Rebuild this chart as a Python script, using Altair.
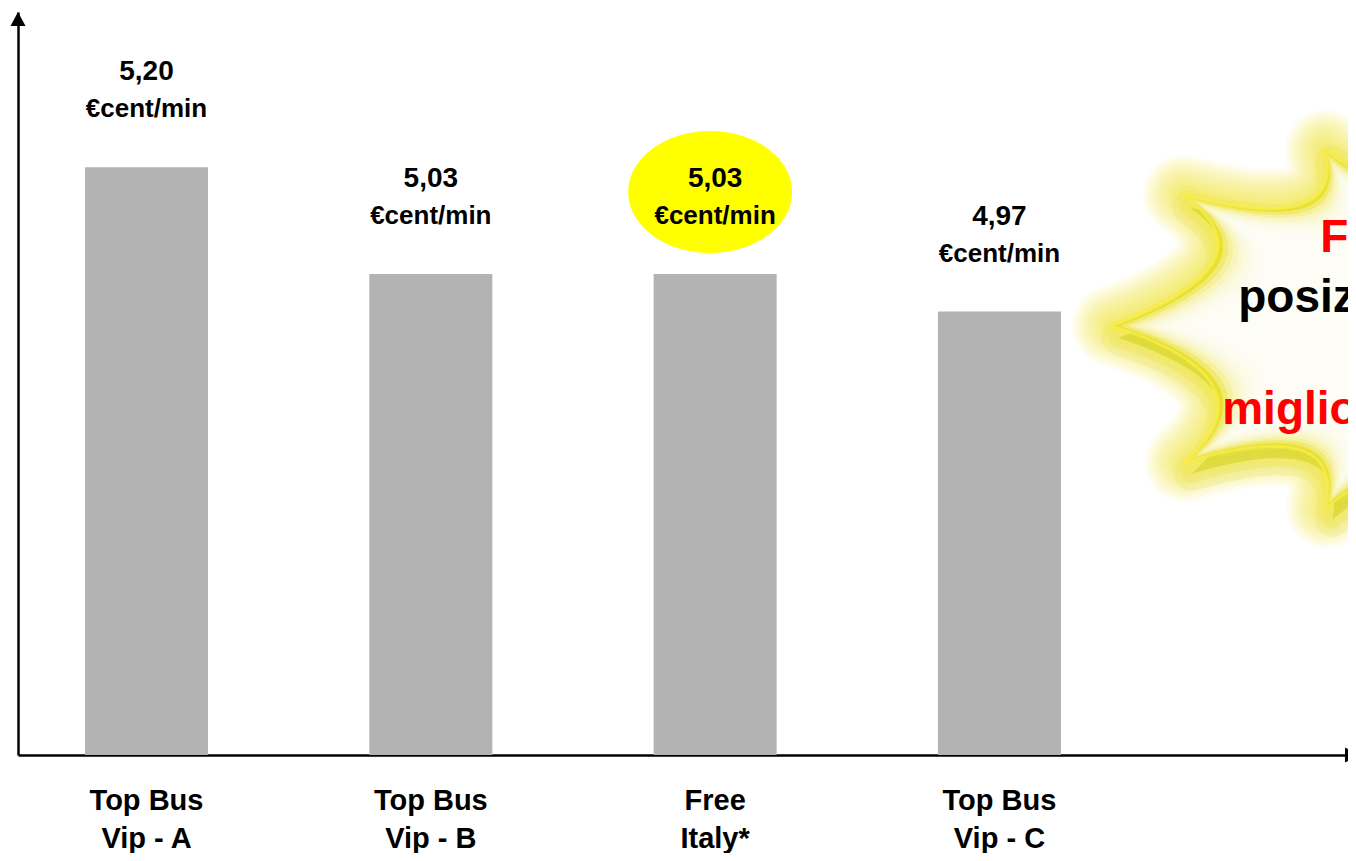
import altair as alt
import pandas as pd

# ---------------- data ----------------
categories = ["Top Bus\nVip - A", "Top Bus\nVip - B", "Free\nItaly*", "Top Bus\nVip - C"]
positions = [0, 1, 2, 3]
values = [5.20, 5.03, 5.03, 4.97]
value_labels = ["5,20", "5,03", "5,03", "4,97"]
unit_label = "€cent/min"
highlight = [False, False, True, False]

star_lines = ["Free Italy", "posizionamento", "migliore"]
star_colors = ["#ff0000", "#000000", "#ff0000"]

# scale domains (value axis does not start at zero in the original)
X_DOMAIN = [-0.452, 4.226]
Y_DOMAIN = [4.264, 5.447]
STAR_X = 4.48
STAR_Y = 4.944

FONT = "Liberation Sans"

df = pd.DataFrame({
    "pos": positions,
    "value": values,
    "label": value_labels,
    "cat": categories,
    "unit": [unit_label] * len(values),
    "hl": highlight,
})
star_df = pd.DataFrame({"x": [STAR_X], "y": [STAR_Y]})
yarrow_df = pd.DataFrame({"x": [X_DOMAIN[0]], "y": [Y_DOMAIN[1]]})
xarrow_df = pd.DataFrame({"x": [X_DOMAIN[1]], "y": [Y_DOMAIN[0]]})

# ---------------- shapes ----------------
def star_path():
    S = 320.0
    tips = [(-308, -2), (-237, -133), (-95, -178), (95, -178), (237, -133),
            (308, 0), (237, 134), (95, 180), (-94, 180), (-235, 134)]
    valleys = [(-207, -66), (-120, -123), (0, -140), (120, -123), (207, -64),
               (207, 62), (120, 122), (0, 140), (-120, 122), (-207, 59)]
    n = len(tips)
    p = "M%.4f,%.4f" % (tips[0][0] / S, tips[0][1] / S)
    for i in range(n):
        a = tips[i]
        b = tips[(i + 1) % n]
        v = valleys[i]
        cx = 2 * v[0] - (a[0] + b[0]) / 2
        cy = 2 * v[1] - (a[1] + b[1]) / 2
        p += "Q%.4f,%.4f,%.4f,%.4f" % (cx / S, cy / S, b[0] / S, b[1] / S)
    return p + "Z", (2 * S) ** 2


def ellipse_path(ry):
    k = 0.5523
    return ("M-1,0C-1,%.4f,%.4f,%.4f,0,%.4f" % (-k * ry, -k, -ry, -ry)
            + "C%.4f,%.4f,1,%.4f,1,0" % (k, -ry, -k * ry)
            + "C1,%.4f,%.4f,%.4f,0,%.4f" % (k * ry, k, ry, ry)
            + "C%.4f,%.4f,-1,%.4f,-1,0Z" % (-k, ry, k * ry))


STAR_PATH, STAR_SIZE = star_path()
ELLIPSE_PATH = ellipse_path(0.744)
ARROW_UP = "M0,-1L1.07,1L-1.07,1Z"
ARROW_RIGHT = "M1,0L-1,-1.07L-1,1.07Z"

# ---------------- encodings ----------------
xs = alt.Scale(domain=X_DOMAIN, nice=False, zero=False, padding=0)
ys = alt.Scale(domain=Y_DOMAIN, nice=False, zero=False, padding=0)
ax_x = alt.Axis(domain=True, domainColor="#000000", domainWidth=2.5, ticks=False,
                labels=False, grid=False, title=None)
ax_y = alt.Axis(domain=True, domainColor="#000000", domainWidth=2.5, ticks=False,
                labels=False, grid=False, title=None)


def X(f):
    return alt.X(f, scale=xs, axis=ax_x)


def Y(f):
    return alt.Y(f, scale=ys, axis=ax_y)


bars_base = alt.Chart(df).encode(x=X("pos:Q"), y=Y("value:Q"))

bars = bars_base.mark_bar(size=123, color="#b3b3b3", clip=True)

ellipse = bars_base.transform_filter("datum.hl").mark_point(
    shape=ELLIPSE_PATH, size=164 * 164, filled=True, color="#ffff00",
    opacity=1, xOffset=-5, yOffset=-82)

val_text = bars_base.mark_text(
    font=FONT, fontWeight="bold", fontSize=28, color="#000000",
    baseline="middle", align="center", dy=-95).encode(text="label:N")

unit_text = bars_base.mark_text(
    font=FONT, fontWeight="bold", fontSize=26, color="#000000",
    baseline="middle", align="center", dy=-58).encode(text="unit:N")

cat_text = alt.Chart(df).mark_text(
    font=FONT, fontWeight="bold", fontSize=29, color="#000000",
    baseline="middle", align="center", lineBreak="\n", lineHeight=38,
    dy=46).encode(x=X("pos:Q"), y=alt.Y("ymin:Q", scale=ys, axis=ax_y),
                  text="cat:N").transform_calculate(ymin=str(Y_DOMAIN[0]))

arrow_y = alt.Chart(yarrow_df).mark_point(
    shape=ARROW_UP, size=196, filled=True, color="#000000", opacity=1,
    yOffset=7).encode(x=X("x:Q"), y=Y("y:Q"))

arrow_x = alt.Chart(xarrow_df).mark_point(
    shape=ARROW_RIGHT, size=196, filled=True, color="#000000", opacity=1,
    xOffset=4).encode(x=X("x:Q"), y=Y("y:Q"))

# star burst
star_base = alt.Chart(star_df).encode(x=X("x:Q"), y=Y("y:Q"))

shadow = [star_base.mark_point(
    shape=STAR_PATH, size=STAR_SIZE, filled=True, fill="#c4bd08",
    fillOpacity=0.22, stroke="#c4bd08", strokeWidth=w, strokeOpacity=0.12,
    strokeJoin="round", xOffset=6, yOffset=12, clip=True) for w in (34, 18)]

glows = []
for w in range(80, 4, -6):
    glows.append(star_base.mark_point(
        shape=STAR_PATH, size=STAR_SIZE, filled=False, stroke="#f0ea12",
        strokeWidth=w, strokeOpacity=0.09, strokeJoin="round", clip=True))

star_fill = star_base.mark_point(
    shape=STAR_PATH, size=STAR_SIZE, filled=True, fill="#e9e030",
    fillOpacity=1, strokeWidth=0, clip=True)

inner = []
for f in [0.975, 0.95, 0.925, 0.90, 0.875, 0.85, 0.82, 0.78]:
    inner.append(star_base.mark_point(
        shape=STAR_PATH, size=STAR_SIZE * f * f, filled=True, fill="#ffffff",
        fillOpacity=0.32, strokeWidth=0, clip=True))

outline = star_base.mark_point(
    shape=STAR_PATH, size=STAR_SIZE, filled=False, stroke="#f9ef4a",
    strokeWidth=3, strokeOpacity=1, strokeJoin="round", clip=True)

star_offsets = [(-100, -90), (-182, -30), (-198, 82)]
star_texts = []
for txt, col, (dx, dy) in zip(star_lines, star_colors, star_offsets):
    star_texts.append(star_base.mark_text(
        text=txt, font=FONT, fontWeight="bold", fontSize=46, color=col,
        align="left", baseline="middle", dx=dx, dy=dy, clip=True))

chart = alt.layer(
    *shadow, *glows, star_fill, *inner, outline, *star_texts,
    bars, ellipse, val_text, unit_text, cat_text, arrow_y, arrow_x,
).properties(
    width=1330, height=743,
    autosize=alt.AutoSizeParams(type="none"),
    padding={"left": 10, "top": 4, "right": 0, "bottom": 98},
    background="#ffffff",
).configure_view(stroke=None)

chart.save("out.html", embed_options={"renderer": "svg", "actions": False})
